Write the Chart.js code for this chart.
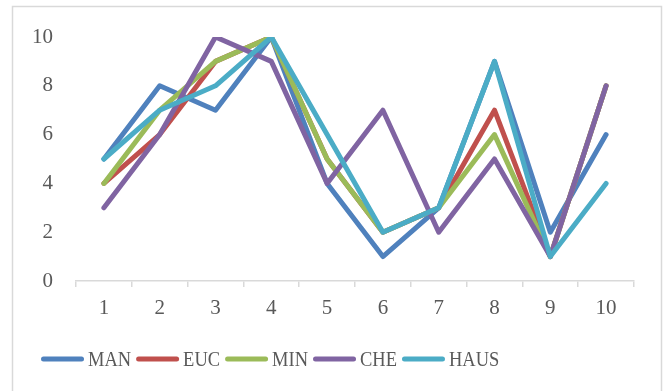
<!DOCTYPE html>
<html>
<head>
<meta charset="utf-8">
<script src="https://cdn.jsdelivr.net/npm/chart.js@4/dist/chart.umd.min.js"></script>
<style>
  html, body { margin: 0; padding: 0; background: #ffffff; }
  #wrap { position: relative; width: 664px; height: 391px; }
</style>
</head>
<body>
<div id="wrap"><canvas id="c" width="664" height="391"></canvas></div>
<script>
// Categories along the x axis
const categories = ['1', '2', '3', '4', '5', '6', '7', '8', '9', '10'];

// Series values
const manValues  = [5, 8, 7, 10, 4, 1, 3, 9, 2, 6];
const eucValues  = [4, 6, 9, 10, 5, 2, 3, 7, 1, 8];
const minValues  = [4, 7, 9, 10, 5, 2, 3, 6, 1, 8];
const cheValues  = [3, 6, 10, 9, 4, 7, 2, 5, 1, 8];
const hausValues = [5, 7, 8, 10, 6, 2, 3, 9, 1, 4];

// Y axis tick labels
const yTickLabels = [0, 2, 4, 6, 8, 10];

const seriesNames  = ['MAN', 'EUC', 'MIN', 'CHE', 'HAUS'];
const seriesValues = [manValues, eucValues, minValues, cheValues, hausValues];
const seriesColors = ['#4f81bd', '#c0504d', '#9bbb59', '#8064a2', '#4bacc6'];

const FONT = '"Liberation Serif", "Times New Roman", serif';
const TEXT_COLOR = '#595959';
const GRID_COLOR = '#d9d9d9';

// Frame around the whole chart
const framePlugin = {
  id: 'frame',
  beforeDraw(chart) {
    const ctx = chart.ctx;
    ctx.save();
    ctx.fillStyle = '#ffffff';
    ctx.fillRect(0, 0, chart.width, chart.height);
    ctx.strokeStyle = GRID_COLOR;
    ctx.lineWidth = 1.5;
    ctx.strokeRect(12.5, 6.5, 649, 390);
    ctx.restore();
  }
};

// Legend row: short thick line followed by the series name (narrow serif text)
const lineLegendPlugin = {
  id: 'lineLegend',
  afterDraw(chart) {
    const ctx = chart.ctx;
    const datasets = chart.data.datasets;
    const fontSize = 22;
    const squeeze = 0.84;
    const lineLen = 43;
    const gapText = 4;
    const gapItem = 5;
    const cy = 359;
    let x = 41;
    ctx.save();
    ctx.font = fontSize + 'px ' + FONT;
    datasets.forEach(d => {
      ctx.strokeStyle = d.borderColor;
      ctx.lineWidth = 5;
      ctx.lineCap = 'round';
      ctx.beginPath();
      ctx.moveTo(x + 2.5, cy);
      ctx.lineTo(x + lineLen - 2.5, cy);
      ctx.stroke();
      const tx = x + lineLen + gapText;
      const tw = ctx.measureText(d.label).width * squeeze;
      ctx.save();
      ctx.translate(tx, cy + 1);
      ctx.scale(squeeze, 1);
      ctx.fillStyle = TEXT_COLOR;
      ctx.textBaseline = 'middle';
      ctx.textAlign = 'left';
      ctx.fillText(d.label, 0, 0);
      ctx.restore();
      x = tx + tw + gapItem;
    });
    ctx.restore();
  }
};

const datasets = seriesNames.map((name, i) => ({
  label: name,
  data: seriesValues[i],
  borderColor: seriesColors[i],
  backgroundColor: seriesColors[i],
  borderWidth: 5,
  borderJoinStyle: 'round',
  borderCapStyle: 'round',
  pointRadius: 0,
  pointHoverRadius: 0,
  tension: 0,
  fill: false,
  // later series are painted on top
  order: seriesNames.length - i
}));

new Chart(document.getElementById('c'), {
  type: 'line',
  data: { labels: categories, datasets },
  options: {
    responsive: false,
    animation: false,
    devicePixelRatio: 1,
    layout: { padding: { left: 0, right: 30, top: 37, bottom: 60 } },
    plugins: {
      legend: { display: false },
      tooltip: { enabled: false }
    },
    scales: {
      x: {
        type: 'category',
        offset: true,
        grid: {
          offset: true,
          drawOnChartArea: false,
          drawTicks: true,
          tickLength: 6,
          color: GRID_COLOR,
          lineWidth: 1.5
        },
        border: { display: true, color: GRID_COLOR, width: 1.5 },
        ticks: {
          color: TEXT_COLOR,
          font: { family: FONT, size: 21 },
          padding: 9,
          maxRotation: 0,
          autoSkip: false
        },
        afterFit(scale) { scale.height = 50; }
      },
      y: {
        min: 0,
        max: 10,
        grid: { display: false, drawTicks: false, tickLength: 0 },
        border: { display: false },
        afterBuildTicks(scale) {
          scale.ticks = yTickLabels.map(v => ({ value: v }));
        },
        ticks: {
          color: TEXT_COLOR,
          font: { family: FONT, size: 21 },
          padding: 23
        },
        afterFit(scale) { scale.width = 76; }
      }
    }
  },
  plugins: [framePlugin, lineLegendPlugin]
});
</script>
</body>
</html>
